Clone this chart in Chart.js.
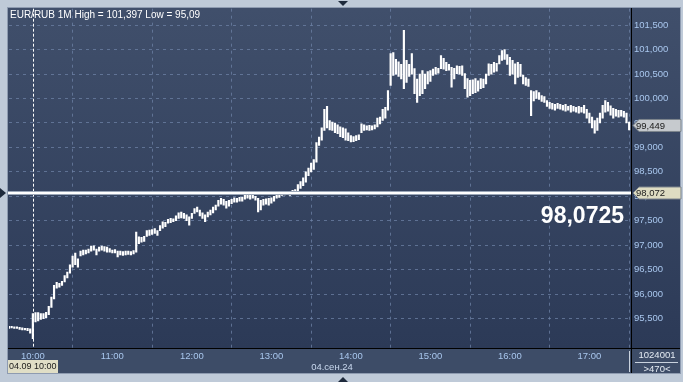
<!DOCTYPE html>
<html lang="ru">
<head>
<meta charset="UTF-8">
<title>EUR/RUB 1M</title>
<script src="https://cdn.jsdelivr.net/npm/chart.js"></script>
<style>
  html, body { margin: 0; padding: 0; background: #bfcad8; }
  canvas { display: block; }
</style>
</head>
<body>
<canvas id="quoteChart" width="683" height="382"></canvas>
<script>
// 2-minute bars starting at 9:42 (minutes from midnight)
const startMinute = 582;
const stepMinutes = 2;

const lows = [
  95.30,95.31,95.30,95.30,95.28,95.27,95.27,95.25,95.20,95.09,
  95.43,95.45,95.48,95.50,95.52,95.58,95.73,95.90,96.12,96.14,
  96.18,96.25,96.33,96.43,96.55,96.60,96.55,96.78,96.80,96.82,
  96.84,96.88,96.90,96.80,96.88,96.90,96.88,96.86,96.86,96.84,
  96.84,96.76,96.80,96.79,96.80,96.81,96.80,96.82,96.86,97.03,
  97.06,97.08,97.18,97.20,97.22,97.24,97.20,97.30,97.35,97.38,
  97.45,97.46,97.48,97.50,97.55,97.56,97.55,97.50,97.41,97.55,
  97.65,97.68,97.60,97.55,97.48,97.58,97.62,97.66,97.72,97.80,
  97.84,97.82,97.76,97.80,97.85,97.88,97.88,97.90,97.90,97.94,
  97.96,97.94,97.96,97.92,97.68,97.72,97.82,97.84,97.82,97.86,
  97.90,97.96,97.98,98.02,98.03,98.04,98.02,98.04,98.06,98.10,
  98.16,98.22,98.29,98.42,98.50,98.55,98.70,99.04,99.15,99.35,
  99.40,99.36,99.35,99.30,99.28,99.22,99.20,99.15,99.14,99.11,
  99.12,99.14,99.16,99.30,99.35,99.36,99.35,99.36,99.38,99.42,
  99.48,99.55,99.60,99.76,100.27,100.47,100.50,100.45,100.40,100.20,
  100.33,100.45,100.50,100.10,99.92,100.06,100.10,100.20,100.30,100.35,
  100.47,100.50,100.52,100.61,100.60,100.57,100.58,100.23,100.40,100.51,
  100.50,100.47,100.20,100.03,100.06,100.10,100.12,100.15,100.20,100.22,
  100.30,100.47,100.50,100.54,100.56,100.71,100.78,100.80,100.70,100.47,
  100.50,100.30,100.43,100.45,100.30,100.27,100.25,99.65,99.95,100.00,
  99.98,99.94,99.92,99.84,99.80,99.78,99.76,99.80,99.78,99.76,
  99.74,99.76,99.72,99.74,99.72,99.70,99.72,99.70,99.60,99.50,
  99.40,99.29,99.35,99.50,99.60,99.72,99.74,99.66,99.60,99.64,
  99.62,99.64,99.62,99.50,99.36
];

const highs = [
  95.34,95.34,95.33,95.33,95.32,95.31,95.30,95.30,95.29,95.60,
  95.62,95.62,95.60,95.60,95.63,95.75,95.94,96.18,96.24,96.22,
  96.26,96.38,96.45,96.60,96.78,96.84,96.72,96.88,96.90,96.90,
  96.92,96.98,96.99,96.92,96.96,96.98,96.97,96.96,96.93,96.90,
  96.91,96.88,96.88,96.87,96.88,96.88,96.87,96.89,97.27,97.17,
  97.16,97.18,97.30,97.31,97.32,97.34,97.30,97.40,97.48,97.47,
  97.53,97.55,97.54,97.60,97.66,97.68,97.65,97.62,97.58,97.65,
  97.75,97.78,97.72,97.66,97.62,97.68,97.72,97.78,97.82,97.92,
  97.96,97.94,97.90,97.92,97.94,97.97,97.96,97.98,97.98,98.04,
  98.06,98.04,98.05,98.00,97.96,97.92,97.94,97.95,97.96,97.97,
  98.00,98.06,98.05,98.08,98.09,98.10,98.09,98.12,98.14,98.24,
  98.30,98.38,98.50,98.58,98.68,98.75,99.10,99.21,99.40,99.78,
  99.84,99.55,99.52,99.50,99.46,99.42,99.40,99.38,99.30,99.24,
  99.22,99.24,99.26,99.48,99.46,99.44,99.45,99.44,99.46,99.60,
  99.62,99.78,99.82,100.16,100.92,100.94,100.80,100.75,100.70,101.397,
  100.78,100.70,100.92,100.61,100.40,100.50,100.57,100.50,100.55,100.57,
  100.60,100.64,100.62,100.88,100.82,100.74,100.70,100.64,100.62,100.67,
  100.66,100.67,100.51,100.41,100.37,100.38,100.41,100.36,100.41,100.40,
  100.50,100.71,100.70,100.74,100.72,100.88,100.98,101.00,100.90,100.84,
  100.78,100.71,100.74,100.70,100.48,100.43,100.40,100.16,100.14,100.16,
  100.12,100.06,100.04,99.96,99.92,99.90,99.88,99.90,99.88,99.86,
  99.88,99.84,99.86,99.84,99.82,99.84,99.82,99.86,99.78,99.70,
  99.62,99.55,99.60,99.70,99.86,99.96,99.92,99.85,99.80,99.78,
  99.76,99.76,99.74,99.70,99.52
];

const hourTicks = [600, 660, 720, 780, 840, 900, 960, 1020];
const priceTicks = [95.5, 96.0, 96.5, 97.0, 97.5, 98.0, 98.5, 99.0, 99.5, 100.0, 100.5, 101.0, 101.5];

const titleText = 'EUR/RUB 1M High = 101,397 Low = 95,09';
const lastPrice = 99.449;
const levelPrice = 98.072;
const levelLabel = '98,0725';
const cursorMinute = 600;
const cursorLabel = '04.09 10:00';
const dateLabel = '04.сен.24';
const cornerTop = '1024001';
const cornerBottom = '>470<';

const fmtPrice = v => v.toFixed(3).replace('.', ',');
const fmtTime = m => String(Math.floor(m / 60)).padStart(2, '0') + ':' + String(m % 60).padStart(2, '0');

const FONT = '"Liberation Sans", Arial, sans-serif';
const tickColor = '#a9c7ee';
const gridColor = 'rgba(110,130,165,0.75)';

function tag(ctx, x, yc, w, h, fill, text) {
  ctx.save();
  ctx.beginPath();
  ctx.moveTo(x, yc);
  ctx.lineTo(x + 6, yc - h / 2);
  ctx.lineTo(x + w, yc - h / 2);
  ctx.lineTo(x + w, yc + h / 2);
  ctx.lineTo(x + 6, yc + h / 2);
  ctx.closePath();
  ctx.fillStyle = fill;
  ctx.fill();
  ctx.strokeStyle = '#7d848c';
  ctx.lineWidth = 1;
  ctx.stroke();
  ctx.fillStyle = '#1a1a1a';
  ctx.font = '9.5px ' + FONT;
  ctx.textBaseline = 'middle';
  ctx.textAlign = 'left';
  ctx.fillText(text, x + 3, yc + 0.5);
  ctx.restore();
}

function triangle(ctx, pts) {
  ctx.beginPath();
  ctx.moveTo(pts[0], pts[1]);
  ctx.lineTo(pts[2], pts[3]);
  ctx.lineTo(pts[4], pts[5]);
  ctx.closePath();
  ctx.fill();
}

const frame = {
  id: 'frame',
  beforeDraw(chart) {
    const ctx = chart.ctx;
    const a = chart.chartArea;
    ctx.save();
    ctx.fillStyle = '#bfcad8';
    ctx.fillRect(0, 0, chart.width, chart.height);
    const g = ctx.createLinearGradient(0, a.top, 0, a.bottom);
    g.addColorStop(0, '#404f6b');
    g.addColorStop(1, '#2c3a57');
    ctx.fillStyle = g;
    ctx.fillRect(8, 8, 672, a.bottom - 8);
    ctx.fillStyle = '#3d4c67';
    ctx.fillRect(8, a.bottom, 672, 373 - a.bottom);
    ctx.strokeStyle = '#8e9bb0';
    ctx.lineWidth = 1;
    ctx.strokeRect(7.5, 7.5, 673, 366);
    ctx.restore();
  },
  afterDatasetsDraw(chart) {
    const ctx = chart.ctx;
    const a = chart.chartArea;
    const x = chart.scales.x, y = chart.scales.y;
    ctx.save();
    // cursor line
    const cx = Math.round(x.getPixelForValue(cursorMinute)) + 0.5;
    ctx.strokeStyle = '#ffffff';
    ctx.setLineDash([3, 2]);
    ctx.beginPath();
    ctx.moveTo(cx, a.top);
    ctx.lineTo(cx, a.bottom);
    ctx.stroke();
    ctx.setLineDash([]);
    // level line
    const ly = Math.round(y.getPixelForValue(levelPrice));
    ctx.fillStyle = '#9aa6b8';
    ctx.fillRect(a.left - 1, ly - 2, a.right - a.left + 1, 4);
    ctx.fillStyle = '#ffffff';
    ctx.fillRect(a.left - 1, ly - 1, a.right - a.left + 1, 2);
    ctx.restore();
  },
  afterDraw(chart) {
    const ctx = chart.ctx;
    const a = chart.chartArea;
    const x = chart.scales.x, y = chart.scales.y;
    ctx.save();
    // separators
    ctx.strokeStyle = '#000000';
    ctx.lineWidth = 1;
    ctx.beginPath();
    ctx.moveTo(a.right + 0.5, 8);
    ctx.lineTo(a.right + 0.5, 373);
    ctx.moveTo(8, a.bottom + 0.5);
    ctx.lineTo(680, a.bottom + 0.5);
    ctx.stroke();
    ctx.strokeStyle = '#c9d2de';
    ctx.beginPath();
    ctx.moveTo(a.right - 1.5, a.bottom + 3);
    ctx.lineTo(a.right - 1.5, 372);
    ctx.moveTo(a.right + 4, 362.5);
    ctx.lineTo(678, 362.5);
    ctx.stroke();

    // title
    ctx.fillStyle = '#ffffff';
    ctx.font = '10px ' + FONT;
    ctx.textBaseline = 'middle';
    ctx.textAlign = 'left';
    ctx.fillText(titleText, 10, 15);

    // big level label
    ctx.font = 'bold 23px ' + FONT;
    ctx.textAlign = 'right';
    ctx.textBaseline = 'alphabetic';
    ctx.fillText(levelLabel, a.right - 7, 223);

    // price tags
    tag(ctx, a.right + 2, y.getPixelForValue(lastPrice), 48, 12, '#c6cace', fmtPrice(lastPrice));
    tag(ctx, a.right + 2, Math.round(y.getPixelForValue(levelPrice)), 48, 12, '#dedcc2', fmtPrice(levelPrice));

    // cursor time tag
    ctx.fillStyle = '#e0dec6';
    ctx.fillRect(8, 360, 50, 13);
    ctx.fillStyle = '#1a1a1a';
    ctx.font = '9px ' + FONT;
    ctx.textAlign = 'left';
    ctx.textBaseline = 'middle';
    ctx.fillText(cursorLabel, 9, 367);

    // date label
    ctx.fillStyle = '#c9d8ee';
    ctx.font = '9.5px ' + FONT;
    ctx.textAlign = 'center';
    ctx.fillText(dateLabel, 332, 367);

    // corner cell
    ctx.fillStyle = '#e4ebf3';
    ctx.fillText(cornerTop, 657, 355);
    ctx.fillText(cornerBottom, 657, 369);

    // edge markers
    ctx.fillStyle = '#1e2a3c';
    const ly = Math.round(y.getPixelForValue(levelPrice));
    triangle(ctx, [338, 1, 348, 1, 343, 6]);
    triangle(ctx, [338, 382, 348, 382, 343, 377]);
    triangle(ctx, [0, ly - 5, 0, ly + 5, 6, ly]);
    ctx.restore();
  }
};

const bars = lows.map((lo, i) => ({ x: startMinute + i * stepMinutes, y: [lo, highs[i]] }));

const ctx = document.getElementById('quoteChart').getContext('2d');
new Chart(ctx, {
  type: 'bar',
  data: {
    datasets: [{
      data: bars,
      backgroundColor: '#ffffff',
      borderWidth: 0,
      barThickness: 1.5,
      grouped: false
    }]
  },
  options: {
    responsive: false,
    animation: false,
    devicePixelRatio: 1,
    layout: { padding: { left: 9, top: 8, right: 3, bottom: 10 } },
    plugins: { legend: { display: false }, tooltip: { enabled: false } },
    scales: {
      x: {
        type: 'linear',
        min: 582,
        max: 1051.4,
        offset: false,
        afterFit: s => { s.height = 24; },
        afterBuildTicks: s => { s.ticks = hourTicks.map(v => ({ value: v })); },
        ticks: {
          color: tickColor,
          font: { family: FONT, size: 9.5 },
          padding: 3,
          maxRotation: 0,
          autoSkip: false,
          callback: v => fmtTime(v)
        },
        grid: { color: gridColor, drawTicks: false, lineWidth: 1 },
        border: { display: false, dash: [3, 4] }
      },
      y: {
        position: 'right',
        min: 94.898,
        max: 101.837,
        afterFit: s => { s.width = 49; },
        afterBuildTicks: s => { s.ticks = priceTicks.map(v => ({ value: v })); },
        ticks: {
          color: tickColor,
          font: { family: FONT, size: 9.5 },
          padding: 3,
          callback: v => fmtPrice(v)
        },
        grid: { color: gridColor, drawTicks: false, lineWidth: 1 },
        border: { display: false, dash: [3, 4] }
      }
    }
  },
  plugins: [frame]
});
</script>
</body>
</html>
